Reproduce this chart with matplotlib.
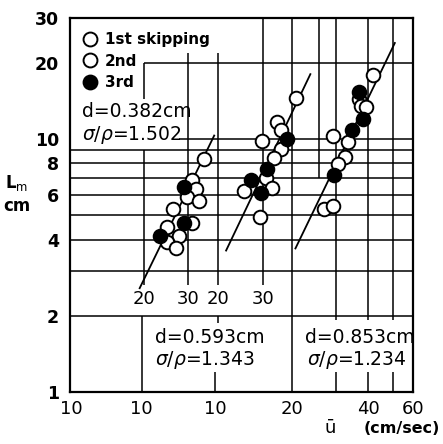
import numpy as np
import matplotlib
matplotlib.use("Agg")
import matplotlib.pyplot as plt
from matplotlib.lines import Line2D
from matplotlib.ticker import FixedLocator, NullLocator

plt.rcParams['font.family'] = ['DejaVu Sans']
plt.rcParams['mathtext.fontset'] = 'dejavusans'

# ---------------- data ----------------
# panel A : d = 0.382 cm, sigma/rho = 1.502
a_u_open = [34.6, 31.1, 32.2, 29.7, 33.1, 26.2, 31.1, 24.8, 27.6, 24.8, 26.9]
a_L_open = [8.34, 6.90, 6.36, 5.91, 5.70, 5.30, 4.63, 4.50, 4.15, 3.90, 3.72]
a_u_fill = [28.9, 28.9, 23.1]
a_L_fill = [6.47, 4.63, 4.15]
a_fit_u = [19.3, 37.9]
a_fit_L = [2.57, 10.3]

# panel B : d = 0.593 cm, sigma/rho = 1.343
b_u_open = [40.3, 34.0, 35.5, 29.7, 35.5, 33.1, 30.8, 25.3, 32.5, 29.2]
b_L_open = [14.5, 11.7, 10.8, 9.82, 9.14, 8.42, 7.02, 6.24, 6.41, 4.93]
b_u_fill = [37.2, 31.1, 26.9, 29.4]
b_L_fill = [10.0, 7.62, 6.90, 6.13]
b_fit_u = [21.5, 46.1]
b_fit_L = [3.62, 18.0]

# panel C : d = 0.853 cm, sigma/rho = 1.234
c_u_open = [41.8, 36.8, 37.5, 39.2, 29.2, 33.4, 32.5, 30.5, 26.7, 29.2]
c_L_open = [17.9, 14.4, 13.5, 13.4, 10.3, 9.73, 8.49, 7.97, 5.30, 5.45]
c_u_fill = [36.8, 38.2, 34.6, 29.4]
c_L_fill = [15.3, 12.0, 10.8, 7.21]
c_fit_u = [20.7, 50.9]
c_fit_L = [3.69, 23.9]

panel_texts = ['d=0.382cm', 'd=0.593cm', 'd=0.853cm']
panel_ratio = [r'$\sigma/\rho$=1.502', r'$\sigma/\rho$=1.343', r'$\sigma/\rho$=1.234']
legend_labels = ['1st skipping', '2nd', '3rd']
y_ticks = [1, 2, 4, 6, 8, 10, 20, 30]
y_ticklabels = ['1', '2', '4', '6', '8', '10', '20', '30']
inner_ticks = [20, 30]          # labelled inside for panels A and B
bottom_ticks_C = [10, 20, 40, 60]

# ---------------- layout ----------------
W, H = 443, 444
fig = plt.figure(figsize=(W / 100, H / 100), dpi=100)
Lp, Rp, Tp, Bp = 70, 413, 18, 392
ax = fig.add_axes([Lp / W, 1 - Bp / H, (Rp - Lp) / W, (Bp - Tp) / H])
ax.set_xscale('log')
ax.set_yscale('log')

DEC = 256.0
u10_px = [67, 142, 216]                       # pixel where u=10 lies for each panel
fac = [10 ** ((p - u10_px[2]) / DEC) for p in u10_px]
xlo = 10 * 10 ** ((Lp - u10_px[2]) / DEC)
ax.set_xlim(xlo, 60)
ax.set_ylim(1, 30)


def X(u, k):
    return np.asarray(u, dtype=float) * fac[k]


ln = dict(color='black', lw=1.1, zorder=1, solid_capstyle='butt')

# horizontal grid
for yv in [2, 3, 4, 5, 6, 7, 8, 9]:
    ax.plot([xlo, 60], [yv, yv], **ln)
ax.plot([X(27.5, 0), 60], [10, 10], **ln)
ax.plot([X(20, 0), 60], [20, 20], **ln)

# vertical grid : (panel, u, Ylo, Yhi)
vert = [
    (0, 20, 14.4, 20), (0, 20, 2.65, 9), (0, 30, 2.65, 21.8),
    (1, 20, 2.65, 21.8), (1, 20, 1.88, 2), (1, 30, 2.65, 30), (1, 50, 7, 30),
    (1, 10, 1, 2),
    (2, 20, 1, 30), (2, 30, 1.92, 30), (2, 40, 1.92, 30), (2, 50, 1.92, 30),
    (2, 10, 1, 1.2), (2, 30, 1, 1.2), (2, 40, 1, 1.2), (2, 50, 1, 1.2),
]
for k, u, y0, y1 in vert:
    ax.plot([X(u, k), X(u, k)], [y0, y1], **ln)

# fit lines
for k, (fu, fL) in enumerate([(a_fit_u, a_fit_L), (b_fit_u, b_fit_L), (c_fit_u, c_fit_L)]):
    ax.plot(X(fu, k), fL, color='black', lw=1.3, zorder=2)

# data points
mk = dict(ls='none', marker='o', ms=9.8, mec='black', mew=1.4)
sets = [(a_u_open, a_L_open, a_u_fill, a_L_fill),
        (b_u_open, b_L_open, b_u_fill, b_L_fill),
        (c_u_open, c_L_open, c_u_fill, c_L_fill)]
for k, (uo, Lo, uf, Lf) in enumerate(sets):
    ax.plot(X(uo, k), Lo, mfc='white', zorder=3, **mk)
    ax.plot(X(uf, k), Lf, mfc='black', zorder=4, **mk)

# spines / ticks
for s in ax.spines.values():
    s.set_linewidth(1.6)
ax.yaxis.set_major_locator(FixedLocator(y_ticks))
ax.set_yticklabels(y_ticklabels, fontweight='bold')
ax.yaxis.set_minor_locator(FixedLocator([10, 20]))
ax.yaxis.set_minor_formatter(plt.NullFormatter())
ax.tick_params(axis='y', which='major', length=0, pad=8, labelsize=12.5)
ax.tick_params(axis='y', which='minor', length=7, width=1.2, direction='out')

xt = [max(10 * fac[0], xlo * 1.012), 10 * fac[1]] + [v * fac[2] for v in bottom_ticks_C]
ax.xaxis.set_major_locator(FixedLocator(xt))
ax.set_xticklabels(['10', '10'] + [str(v) for v in bottom_ticks_C])
ax.xaxis.set_minor_locator(NullLocator())
ax.tick_params(axis='x', which='major', length=0, pad=6, labelsize=13)

# inner axis labels of panels A and B
for k in (0, 1):
    for v in inner_ticks:
        ax.text(X(v, k), 2.33, str(v), ha='center', va='center', fontsize=13, zorder=5)

# panel annotations
ax.text(0.035, 0.749, panel_texts[0], transform=ax.transAxes, fontsize=13.5, va='center', ha='left')
ax.text(0.035, 0.687, panel_ratio[0], transform=ax.transAxes, fontsize=13.5, va='center', ha='left')
ax.text(0.248, 0.147, panel_texts[1], transform=ax.transAxes, fontsize=13.5, va='center', ha='left')
ax.text(0.248, 0.086, panel_ratio[1], transform=ax.transAxes, fontsize=13.5, va='center', ha='left')
ax.text(0.685, 0.147, panel_texts[2], transform=ax.transAxes, fontsize=13.5, va='center', ha='left')
ax.text(0.691, 0.086, panel_ratio[2], transform=ax.transAxes, fontsize=13.5, va='center', ha='left')

# legend
hd = [Line2D([], [], ls='none', marker='o', ms=10, mfc=c, mec='black', mew=1.4)
      for c in ('white', 'white', 'black')]
ax.legend(hd, legend_labels, loc='upper left', bbox_to_anchor=(0.035, 0.962),
          frameon=False, handlelength=1.0, handletextpad=0.5, labelspacing=0.42,
          borderpad=0, borderaxespad=0, prop=dict(weight='bold', size=11))

# axis titles
fig.text(17 / W, 1 - 183 / H, r'L$_\mathrm{m}$', fontsize=12, fontweight='bold', ha='center', va='center')
fig.text(17 / W, 1 - 206 / H, 'cm', fontsize=12, fontweight='bold', ha='center', va='center')
fig.text(330 / W, 1 - 428 / H, 'ū', fontsize=13, ha='center', va='center')
fig.text(402 / W, 1 - 428 / H, '(cm/sec)', fontsize=11.5, fontweight='bold', ha='center', va='center')

fig.savefig('out.png', dpi=100)
